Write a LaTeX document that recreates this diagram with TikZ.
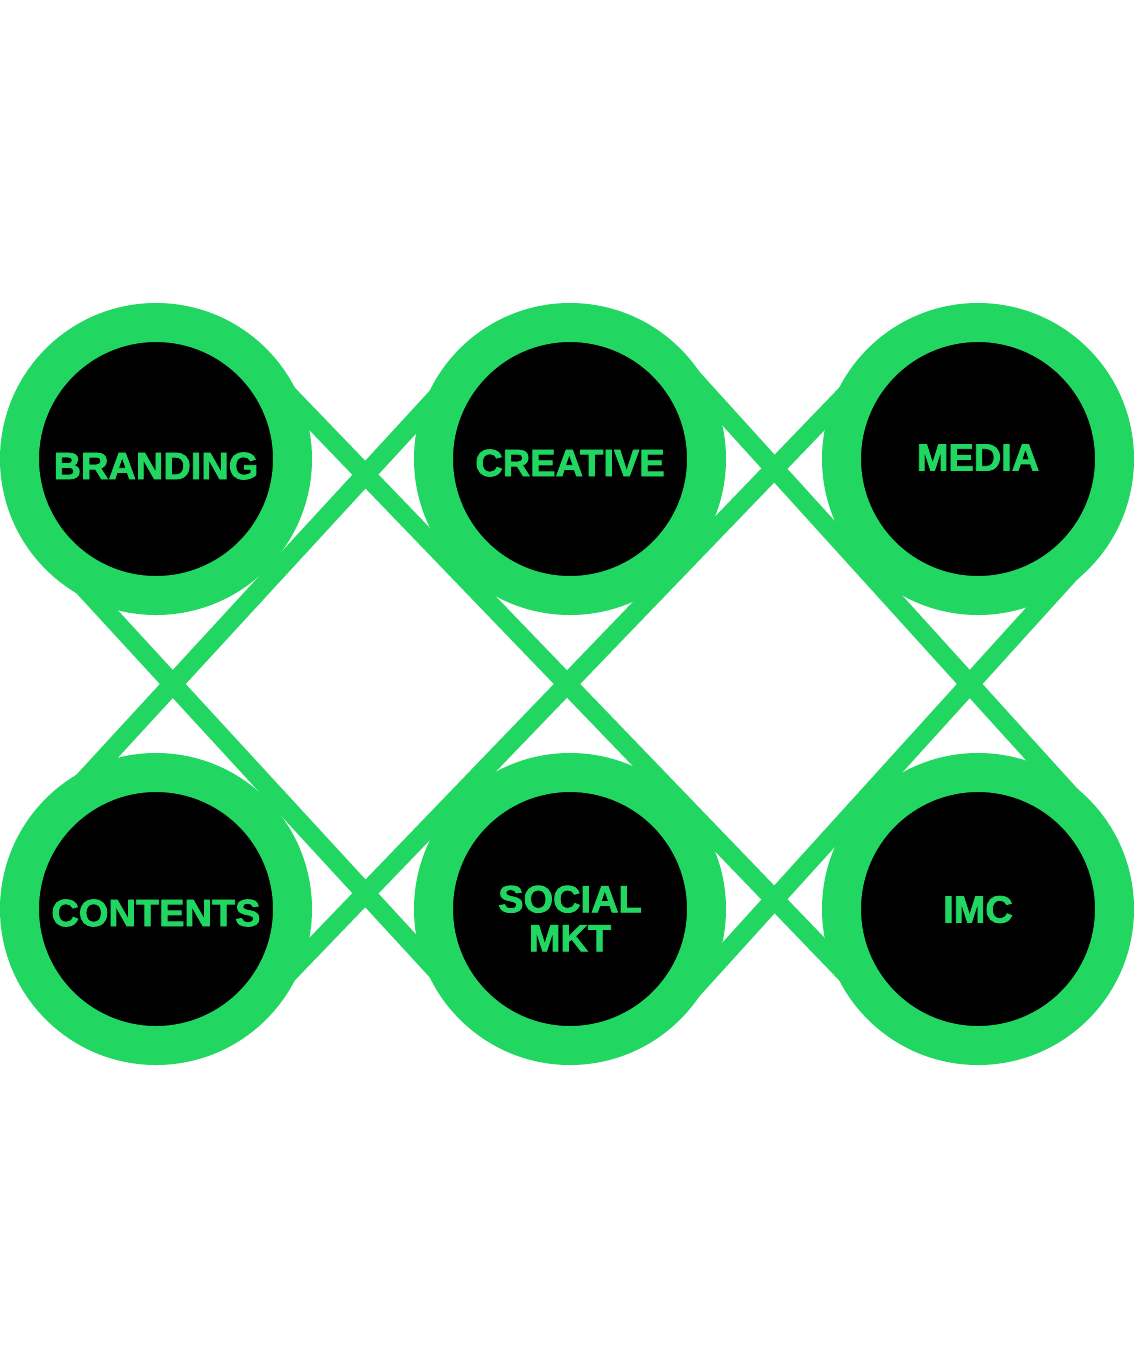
\documentclass[tikz,border=0pt]{standalone}
\usepackage{fontspec}
\setmainfont{Liberation Sans}[BoldFeatures={FakeBold=2}]
\usetikzlibrary{calc,backgrounds}
\definecolor{mktgreen}{RGB}{33,215,98}

\begin{document}
\begin{tikzpicture}[x=0.5pt,y=-0.5pt,
  disc/.style={circle,fill=black,draw=mktgreen,line width=19.5pt,minimum size=136.5pt,inner sep=0pt,outer sep=0pt},
  word/.style={text=mktgreen,font=\fontsize{19}{19.5}\selectfont\bfseries,align=center,inner sep=0pt},
  band/.style={mktgreen,line width=9.5pt}]
\useasboundingbox (0,0) rectangle (1140,1371);

\foreach \n/\x/\y/\dy/\lbl in {brand/156/459/7/BRANDING,creat/570/459/4/CREATIVE,media/978/459/-1.5/MEDIA,cont/156/909/4/CONTENTS,social/570/909/9.5/SOCIAL\\MKT,imc/978/909/0.5/IMC}
{
\node[disc] (\n) at (\x,\y) {};
\node[word] (\n-txt) at (\x,\y+\dy) {\lbl};
}

\begin{scope}[on background layer]
\fill[white] (0,0) rectangle (1140,1371);
\foreach \p/\q/\s/\e/\d in {brand/imc/72.6/72.6/70pt,media/cont/-72.6/-72.6/70pt,creat/cont/-90/90/70pt,brand/social/-90/90/70pt,creat/imc/90/-90/72.5pt,media/social/90/-90/72.5pt}
{
\draw[band] ($(\p)!\d!\s:(\q)$) -- ($(\q)!\d!\e:(\p)$);
}
\end{scope}
\end{tikzpicture}
\end{document}
